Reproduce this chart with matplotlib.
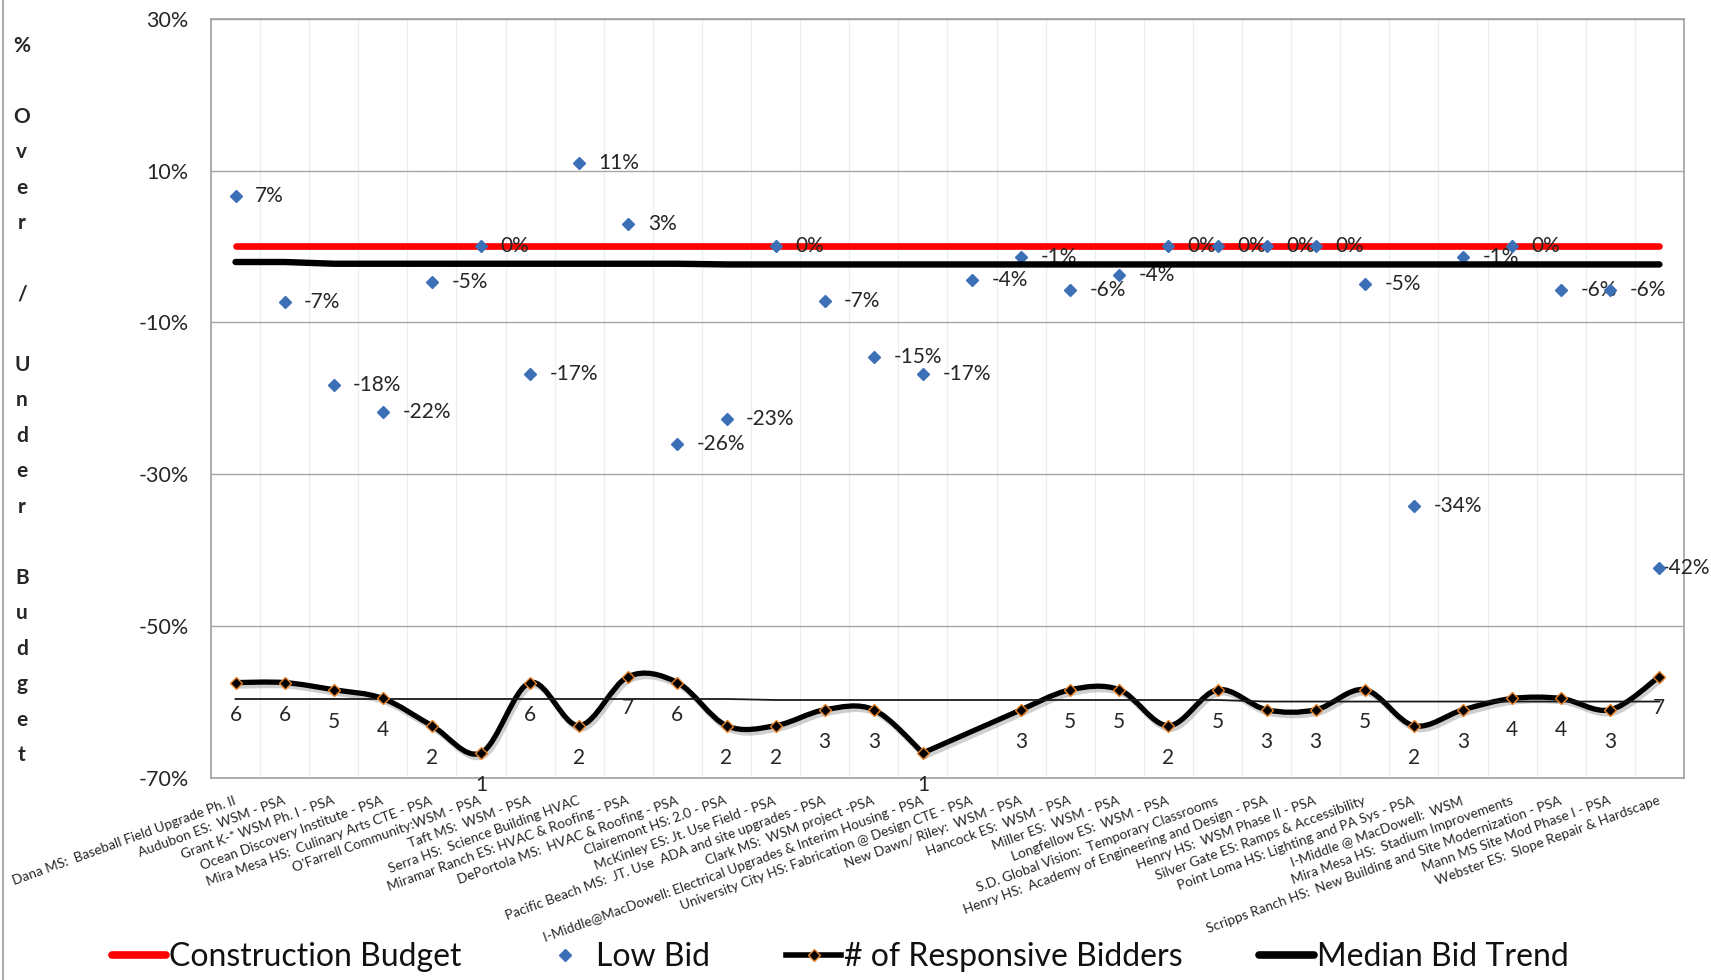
import matplotlib
matplotlib.use('Agg')
import matplotlib.pyplot as plt
import matplotlib.patheffects as pe
from matplotlib.lines import Line2D
from matplotlib.path import Path
from matplotlib.patches import PathPatch
from matplotlib.ticker import FuncFormatter
import numpy as np

projects = [
    'Dana MS:  Baseball Field Upgrade Ph. II',
    'Audubon ES:  WSM - PSA',
    'Grant K-* WSM Ph. I - PSA',
    'Ocean Discovery Institute - PSA',
    'Mira Mesa HS:  Culinary Arts CTE - PSA',
    "O'Farrell Community:WSM - PSA",
    'Taft MS:  WSM - PSA',
    'Serra HS:  Science Building HVAC',
    'Miramar Ranch ES: HVAC & Roofing - PSA',
    'DePortola MS:  HVAC & Roofing - PSA',
    'Clairemont HS: 2.0 - PSA',
    'McKinley ES: Jt. Use Field - PSA',
    'Pacific Beach MS:  JT. Use  ADA and site upgrades - PSA',
    'Clark MS:  WSM project -PSA',
    'I-Middle@MacDowell: Electrical Upgrades & Interim Housing - PSA',
    'University City HS: Fabrication @ Design CTE - PSA',
    'New Dawn/ Riley:  WSM - PSA',
    'Hancock ES:  WSM - PSA',
    'Miller ES:  WSM - PSA',
    'Longfellow ES:  WSM - PSA',
    'S.D. Global Vision:  Temporary Classrooms',
    'Henry HS:  Academy of Engineering and Design - PSA',
    'Henry HS:  WSM Phase II - PSA',
    'Silver Gate ES: Ramps & Accessibility',
    'Point Loma HS: Lighting and PA Sys - PSA',
    'I-Middle @ MacDowell:  WSM',
    'Mira Mesa HS:  Stadium Improvements',
    'Scripps Ranch HS:  New Building and Site Modernization - PSA',
    'Mann MS Site Mod Phase I - PSA',
    'Webster ES:  Slope Repair & Hardscape',
]

# low bid vs. budget (fraction)
low_bid = [0.066, -0.073, -0.182, -0.218, -0.047, 0.0, -0.168, 0.110, 0.029, -0.260,
           -0.227, 0.0, -0.072, -0.146, -0.168, -0.044, -0.014, -0.058, -0.037, 0.0,
           0.0, 0.0, 0.0, -0.050, -0.342, -0.014, 0.0, -0.058, -0.058, -0.424]

# number of responsive bidders (nan = no data)
bidders = [6, 6, 5, 4, 2, 1, 6, 2, 7, 6,
           2, 2, 3, 3, 1, np.nan, 3, 5, 5, 2,
           5, 3, 3, 5, 2, 3, 4, 4, 3, 7]

budget = [0.0] * 30
median_trend = [-0.0205] * 2 + [-0.0228] * 8 + [-0.0237] * 20
median_bidders = [3.95] * 11 + [3.85] * 10 + [3.7] * 9

plt.rcParams['font.family'] = ['Lato', 'DejaVu Sans']

BLUE = '#3B6FB6'
ORANGE = '#E8832A'


def smooth_path(xs, ys):
    # bezier curve through the points (catmull-rom tangents), y in log10 space
    pts = np.column_stack([xs, np.log10(ys)])
    n = len(pts)
    verts = [pts[0]]
    codes = [Path.MOVETO]
    for i in range(n - 1):
        p0 = pts[max(i - 1, 0)]
        p1 = pts[i]
        p2 = pts[i + 1]
        p3 = pts[min(i + 2, n - 1)]
        verts += [p1 + (p2 - p0) / 6, p2 - (p3 - p1) / 6, p2]
        codes += [Path.CURVE4] * 3
    verts = np.array(verts)
    verts[:, 1] = 10 ** verts[:, 1]
    return verts, codes


fig = plt.figure(figsize=(17.11, 9.8), dpi=100)
ax = fig.add_axes([0.1233, 0.2061, 0.8609, 0.7749])
x = np.arange(len(projects))

ax.set_xlim(-0.5, len(projects) - 0.5)
ax.set_ylim(-0.70, 0.30)
ax.set_yticks([0.3, 0.1, -0.1, -0.3, -0.5, -0.7])
ax.yaxis.set_major_formatter(FuncFormatter(lambda v, p: f'{v:.0%}'))
ax.set_xticks(x)
ax.set_xticks(np.arange(-0.5, len(projects)), minor=True)
ax.set_xticklabels(projects, rotation=20, ha='right', va='center',
                   rotation_mode='anchor', fontsize=9.8, color='#262626')
ax.tick_params(axis='x', which='both', length=0, pad=16)
ax.tick_params(axis='y', length=0, pad=16, labelsize=15.5, labelcolor='#262626')
ax.yaxis.grid(True, color='#A6A6A6', lw=1)
ax.xaxis.grid(True, which='minor', color='#E8EDF6', lw=0.9)
ax.xaxis.grid(False, which='major')
ax.set_axisbelow(True)
for s in ax.spines.values():
    s.set_color('#A0A0A0')
    s.set_linewidth(1.2)

# budget line, low bids and median trend
ax.plot(x, budget, color='#FF0000', lw=4.8, solid_capstyle='round', zorder=3)
ax.plot(x, low_bid, 'D', color=BLUE, ms=6, mec=BLUE, zorder=5)
for i, (xi, v) in enumerate(zip(x, low_bid)):
    dx = 2 if i == len(low_bid) - 1 else 14
    ax.annotate(f'{v:.0%}', (xi, v), xytext=(dx, 0), textcoords='offset points',
                ha='left', va='center', fontsize=15, color='#262626',
                annotation_clip=False, zorder=4)
ax.plot(x, median_trend, color='black', lw=4.6, solid_capstyle='round', zorder=6)

# bidders on a hidden log axis
ax2 = ax.twinx()
ax2.set_yscale('log')
ax2.set_ylim(0.527, 1.34e8)
ax2.set_axis_off()

b = np.array(bidders, dtype=float)
ok = ~np.isnan(b)
shadow = [pe.SimpleLineShadow(offset=(1.5, -2.5), shadow_color='#777777', alpha=0.35),
          pe.Normal()]
# split into runs of data; runs get smoothed, gaps get a straight join
runs = []
cur = []
for i in range(len(b)):
    if ok[i]:
        cur.append(i)
    elif cur:
        runs.append(cur)
        cur = []
if cur:
    runs.append(cur)
for k, r in enumerate(runs):
    verts, codes = smooth_path(x[r], b[r])
    ax2.add_patch(PathPatch(Path(verts, codes), fill=False, ec='black', lw=3.8,
                            capstyle='round', joinstyle='round', path_effects=shadow))
    if k + 1 < len(runs):
        nxt = runs[k + 1][0]
        ax2.plot([x[r[-1]], x[nxt]], [b[r[-1]], b[nxt]], color='black', lw=3.8,
                 solid_capstyle='round', path_effects=shadow)

ax2.plot(x, median_bidders, color='#1A1A1A', lw=1.3, zorder=2)
ax2.plot(x[ok], b[ok], 'D', color='black', ms=6.5, mec=ORANGE, mew=1.0, zorder=4)
for xi, n in zip(x[ok], b[ok]):
    ax2.annotate(f'{int(n)}', (xi, n), xytext=(0, -23), textcoords='offset points',
                 ha='center', va='center', fontsize=15, color='#262626')

# stacked y axis title
title_lines = list('%') + [''] + list('Over') + [''] + ['/'] + [''] + \
    list('Under') + [''] + list('Budget')
for k, ch in enumerate(title_lines):
    if ch:
        fig.text(21.8 / 1711, 1 - (45.8 + 35.46 * k) / 980, ch, ha='center',
                 va='center', fontsize=15, fontweight='bold', color='#262626')

handles = [
    Line2D([], [], color='#FF0000', lw=5.5, solid_capstyle='round'),
    Line2D([], [], ls='none', marker='D', color=BLUE, ms=6),
    Line2D([], [], color='black', lw=4, marker='D', mfc='black', mec=ORANGE, ms=6.5),
    Line2D([], [], color='black', lw=5.5, solid_capstyle='round'),
]
labels = ['Construction Budget', 'Low Bid', '# of Responsive Bidders', 'Median Bid Trend']
fig.legend(handles, labels, loc='center', bbox_to_anchor=(0.491, 1 - 957 / 980),
           ncol=4, frameon=False, fontsize=23, handlelength=1.7, handletextpad=0.1,
           columnspacing=2.4, labelcolor='#111111')

fig.add_artist(Line2D([0.002, 0.002], [0, 1], transform=fig.transFigure,
                      color='#9A9A9A', lw=1.2))

fig.savefig('out.png', dpi=100)
